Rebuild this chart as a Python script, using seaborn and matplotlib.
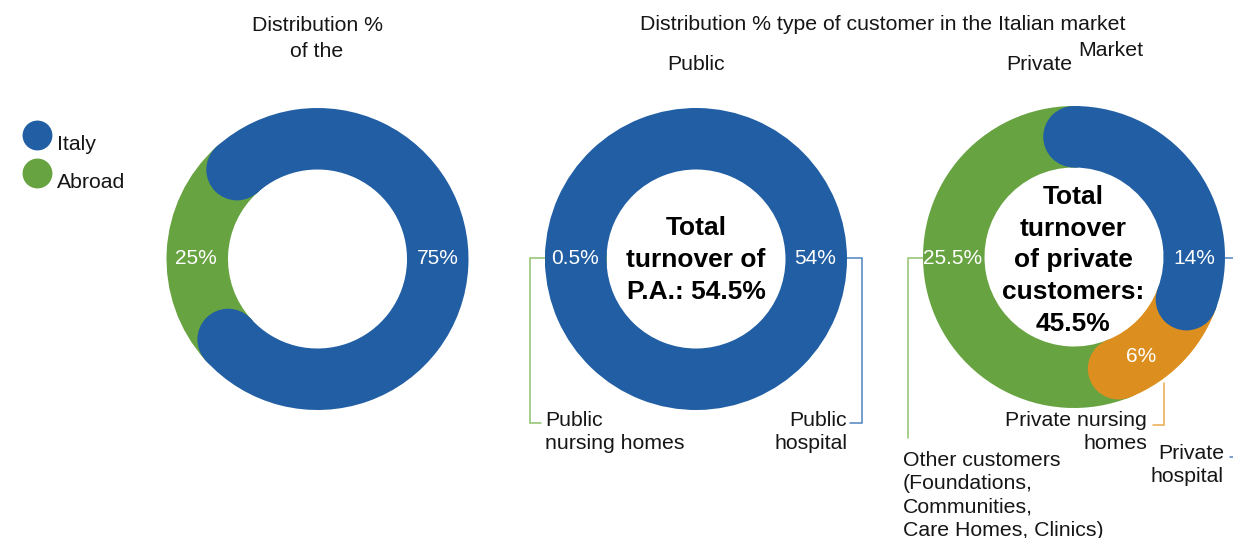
import math

import matplotlib
matplotlib.use("Agg")
import matplotlib.pyplot as plt
import numpy as np
from matplotlib.patches import Circle
from matplotlib.lines import Line2D
from matplotlib.legend_handler import HandlerLine2D
import seaborn as sns

# ---- data -------------------------------------------------------------
origin_labels = ["Italy", "Abroad"]
origin_share = [75, 25]

public_labels = ["Public hospital", "Public nursing homes"]
public_share = [54, 0.5]

private_labels = ["Private hospital", "Private nursing homes", "Other customers"]
private_share = [14, 6, 25.5]

# ---- style ------------------------------------------------------------
sns.set_theme(style="white")
plt.rcParams["font.family"] = ["Liberation Sans", "DejaVu Sans"]

BLUE = "#215EA3"
GREEN = "#68A342"
ORANGE = "#DC8F1E"
LEAD_BLUE = "#4F82C2"
LEAD_GREEN = "#8FC26C"
LEAD_ORANGE = "#EBAA4C"
INK = "#161616"

W_PX, H_PX = 1233, 538
R_OUT = 151
RING = 61.5

fig = plt.figure(figsize=(W_PX / 100, H_PX / 100), dpi=100)
ax = fig.add_axes([0, 0, 1, 1])


def Y(py):
    """Convert a top-down pixel row into the axes' upward y coordinate."""
    return H_PX - py


def donut(values, colors, center, startangle):
    """Ring chart whose slices end in rounded caps; earlier slices sit on top."""
    wedges, _ = ax.pie(values, colors=colors, startangle=startangle,
                       counterclock=False, radius=R_OUT, center=center,
                       wedgeprops=dict(width=RING, linewidth=0))
    rm = R_OUT - RING / 2
    cx, cy = center
    for i, w in enumerate(wedges):
        w.set_zorder(10 - 2 * i)
        for th in (w.theta1, w.theta2):
            t = math.radians(th)
            ax.add_patch(Circle((cx + rm * math.cos(t), cy + rm * math.sin(t)),
                                RING / 2, facecolor=colors[i], edgecolor="none",
                                zorder=11 - 2 * i))
    return wedges


c1 = (317.5, Y(259))
c2 = (696, Y(259))
c3 = (1074, Y(257))

donut(origin_share, [BLUE, GREEN], c1, 132)
small = public_share[1] / sum(public_share)
donut(public_share, [BLUE, GREEN], c2, 180 - 180 * small)
donut(private_share, [BLUE, ORANGE, GREEN], c3, 90)

ax.set_xlim(0, W_PX)
ax.set_ylim(0, H_PX)
ax.set_aspect("equal")
ax.axis("off")


# ---- value labels -----------------------------------------------------
def pct(v):
    return f"{v:g}%"


lab = dict(color="white", fontsize=15, ha="center", va="center", zorder=30)
ax.text(196, Y(258), pct(origin_share[1]), **lab)
ax.text(438, Y(258), pct(origin_share[0]), **lab)
ax.text(574.5, Y(258), pct(public_share[1]), **lab)
ax.text(815, Y(258), pct(public_share[0]), **lab)
ax.text(952.5, Y(258), pct(private_share[2]), **lab)
ax.text(1194, Y(258), pct(private_share[0]), **lab)
ax.text(1141, Y(357), pct(private_share[1]), **lab)

# ---- centre totals ----------------------------------------------------
ctr = dict(color="black", fontsize=19, fontweight="bold", ha="center",
           va="center", linespacing=1.40, zorder=30)
ax.text(c2[0], Y(260), "Total\nturnover of\nP.A.: " + pct(sum(public_share)), **ctr)
ax.text(c3[0] - 1, Y(260.5),
        "Total\nturnover\nof private\ncustomers:\n" + pct(sum(private_share)), **ctr)

# ---- titles -----------------------------------------------------------
tt = dict(color=INK, fontsize=15.3, ha="center", va="center", linespacing=1.45)
ax.text(317, Y(38.5), "Distribution %\nof the", **tt)
ax.text(883, Y(25), "Distribution % type of customer in the Italian market", **tt)
ax.text(696, Y(65), "Public", **tt)
ax.text(1039, Y(64), "Private", **tt)
ax.text(1111, Y(50), "Market", **tt)

# ---- category callouts ------------------------------------------------
cat = dict(color=INK, fontsize=15.3, va="center", linespacing=1.27)
ax.text(545, Y(432), public_labels[1].replace("Public ", "Public\n"), ha="left", **cat)
ax.text(847, Y(432), public_labels[0].replace("Public ", "Public\n"), ha="right", **cat)
ax.text(1147, Y(432), "Private nursing\nhomes", ha="right", **cat)
ax.text(1224, Y(465), private_labels[0].replace("Private ", "Private\n"), ha="right", **cat)
ax.text(903, Y(495.5), "Other customers\n(Foundations,\nCommunities,\nCare Homes, Clinics)",
        ha="left", **cat)


def leader(pts, color):
    xs = [p[0] for p in pts]
    ys = [Y(p[1]) for p in pts]
    ax.plot(xs, ys, color=color, lw=1.1, solid_joinstyle="miter", zorder=5)


x_l2 = c2[0] - R_OUT
x_r2 = c2[0] + R_OUT
x_l3 = c3[0] - R_OUT
x_r3 = c3[0] + R_OUT
leader([(x_l2, 258), (530, 258), (530, 423), (541, 423)], LEAD_GREEN)
leader([(x_r2, 258), (861.5, 258), (861.5, 423), (850, 423)], LEAD_BLUE)
leader([(x_l3, 258), (908, 258), (908, 438)], LEAD_GREEN)
leader([(1164, 383), (1164, 425), (1153, 425)], LEAD_ORANGE)
leader([(x_r3, 258), (1240, 258)], LEAD_BLUE)
leader([(1230, 457), (1240, 457)], LEAD_BLUE)


# ---- legend -----------------------------------------------------------
class RaisedMarker(HandlerLine2D):
    """Legend key drawn a little above the label's centre line."""

    def create_artists(self, legend, orig_handle, xdescent, ydescent,
                       width, height, fontsize, trans):
        artists = super().create_artists(legend, orig_handle, xdescent, ydescent,
                                         width, height, fontsize, trans)
        for a in artists:
            a.set_ydata(np.asarray(a.get_ydata(), dtype=float) + 5.8)
        return artists


handles = [Line2D([], [], marker="o", ls="none", markersize=21.5,
                  markerfacecolor=c, markeredgecolor="none")
           for c in (BLUE, GREEN)]
ax.legend(handles, origin_labels, loc="upper left",
          bbox_to_anchor=(16 / W_PX, 1 - 124.5 / H_PX), frameon=False,
          fontsize=15.3, labelspacing=0.9, handlelength=1.0,
          handletextpad=0.45, borderpad=0, labelcolor=INK,
          handler_map={Line2D: RaisedMarker()})

fig.savefig("out.png", dpi=100)
